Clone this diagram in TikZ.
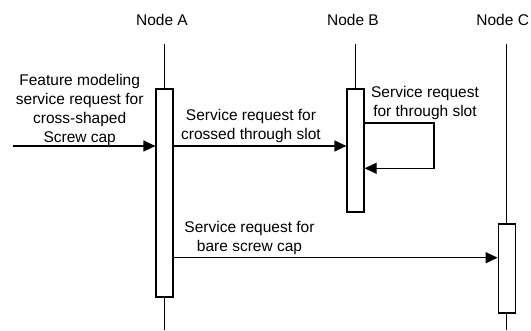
\documentclass[tikz,border=0pt]{standalone}
\usepackage{fontspec}
\setmainfont{Liberation Sans}
\usetikzlibrary{arrows.meta}
\begin{document}
\begin{tikzpicture}[x=1pt,y=-1pt,
  line width=1.2pt,
  lbl/.style={font=\fontsize{15.5}{19}\selectfont, inner sep=0pt, align=center},
  head/.style={font=\fontsize{15.5}{19}\selectfont, inner sep=0pt, anchor=base},
  actbox/.style={draw, fill=white, minimum width=17pt, inner sep=0pt},
  msg/.style={-{Triangle[length=12pt,width=11pt]}}]
\useasboundingbox (0,0) rectangle (531,330);

% participant headings
\node[head] (nA) at (162,25) {Node A};
\node[head] (nB) at (353,25) {Node B};
\node[head] (nC) at (502.7,25) {Node C};

% lifeline ends
\coordinate (topA) at (164.5,44);
\coordinate (topB) at (355.5,44);
\coordinate (topC) at (506.7,44);
\coordinate (botA) at (164.5,330);
\coordinate (botB) at (355.5,330);
\coordinate (botC) at (506.7,330);

% activation bars
\node[actbox, minimum height=208pt] (actA) at (164.5,193) {};
\node[actbox, minimum height=123pt] (actB) at (355.5,150.5) {};
\node[actbox, minimum height=89pt]  (actC) at (506.7,268.5) {};

% lifelines
\draw (topA) -- (actA.north);
\draw (actA.south) -- (botA);
\draw (topB) -- (actB.north);
\draw (topC) -- (actC.north);
\draw (actC.south) -- (botC);

% message levels
\coordinate (src) at (13,146);
\coordinate (m2) at (0,146);
\coordinate (m3) at (0,123);
\coordinate (loopR) at (434,168.3);
\coordinate (m4) at (0,257.7);

% messages
\draw[msg] (src) -- (actA.west |- src);
\draw[msg] (actA.east |- m2) -- (actB.west |- m2);
\draw[msg] (actB.east |- m3) -| (loopR) -- (actB.east |- loopR);
\draw[msg] (actA.east |- m4) -- (actC.west |- m4);

% message labels
\node[lbl, anchor=south] (l1) at (79.7,146)
  {Feature modeling\\service request for\\cross-shaped\\Screw cap};
\node[lbl, anchor=south] (l2) at (251,143.3)
  {Service request for\\crossed through slot};
\node[lbl, anchor=south] (l3) at (425,120.6)
  {Service request\\for through slot};
\node[lbl, anchor=south] (l4) at (249.5,255)
  {Service request for\\bare screw cap};
\end{tikzpicture}
\end{document}
